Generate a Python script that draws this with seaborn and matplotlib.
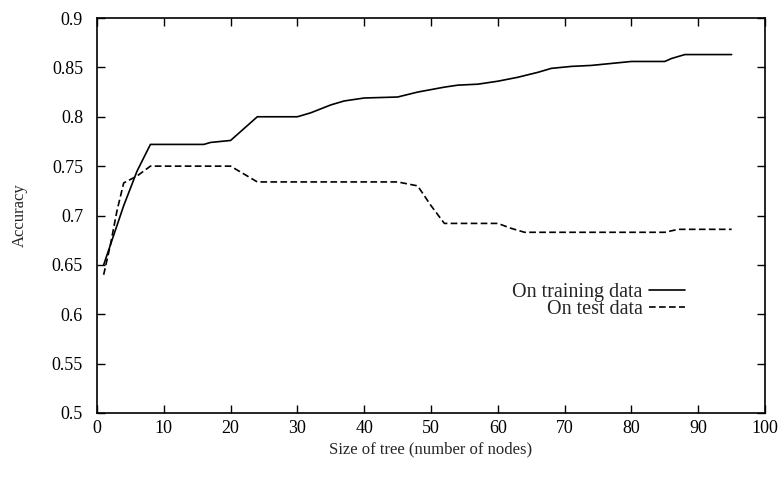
import numpy as np
import pandas as pd
import seaborn as sns
import matplotlib.pyplot as plt

# training accuracy vs tree size
train_x = [1, 2, 4, 6, 8, 16, 17, 20, 21, 24, 30, 32, 35, 37, 40, 45, 48, 52, 54,
           57, 60, 63, 66, 68, 71, 74, 77, 80, 85, 86, 88, 95]
train_y = [0.65, 0.67, 0.71, 0.745, 0.772, 0.772, 0.774, 0.776, 0.782, 0.80, 0.80,
           0.804, 0.812, 0.816, 0.819, 0.82, 0.825, 0.83, 0.832, 0.833, 0.836, 0.84,
           0.845, 0.849, 0.851, 0.852, 0.854, 0.856, 0.856, 0.859, 0.863, 0.863]

# test accuracy vs tree size
test_x = [1, 2, 3, 4, 6, 8, 20, 22, 24, 45, 48, 50, 52, 60, 62, 64, 85, 87, 95]
test_y = [0.64, 0.67, 0.705, 0.733, 0.74, 0.75, 0.75, 0.742, 0.734, 0.734, 0.73,
          0.71, 0.692, 0.692, 0.687, 0.683, 0.683, 0.686, 0.686]

sns.set_style("ticks")
plt.rcParams['font.family'] = ['Liberation Serif', 'DejaVu Serif']

fig = plt.figure(figsize=(7.84, 4.78), dpi=100)
ax = fig.add_axes([0.1237, 0.136, 0.8521, 0.8263])

sns.lineplot(x=train_x, y=train_y, ax=ax, color="black", linewidth=1.2,
             label="On training data")
sns.lineplot(x=test_x, y=test_y, ax=ax, color="black", linewidth=1.2,
             label="On test data")
ax.lines[1].set_dashes([4, 2])

ax.set_xlim(0, 100)
ax.set_ylim(0.5, 0.9)
ax.set_xticks(np.arange(0, 101, 10))
ax.set_yticks(np.arange(0.5, 0.91, 0.05))
ax.set_yticklabels(["0.5", "0.55", "0.6", "0.65", "0.7", "0.75", "0.8", "0.85", "0.9"])
ax.tick_params(direction="in", length=6, width=1, top=True, right=True,
               labelsize=13, colors="black")
ax.tick_params(axis="y", pad=10)
ax.tick_params(axis="x", pad=5)
for s in ax.spines.values():
    s.set_visible(True)
    s.set_linewidth(1.2)
    s.set_color("black")

ax.set_xlabel("Size of tree (number of nodes)", fontsize=12, labelpad=3)
ax.set_ylabel("Accuracy", fontsize=12, labelpad=17)

leg = ax.legend(loc="upper right", bbox_to_anchor=(0.88, 0.33), frameon=False,
                markerfirst=False, fontsize=14.5, handlelength=1.8,
                handletextpad=0.3, labelspacing=-0.1, borderpad=0,
                borderaxespad=0)
for t in leg.get_texts():
    t.set_ha("right")

fig.savefig("out.png", dpi=100)
